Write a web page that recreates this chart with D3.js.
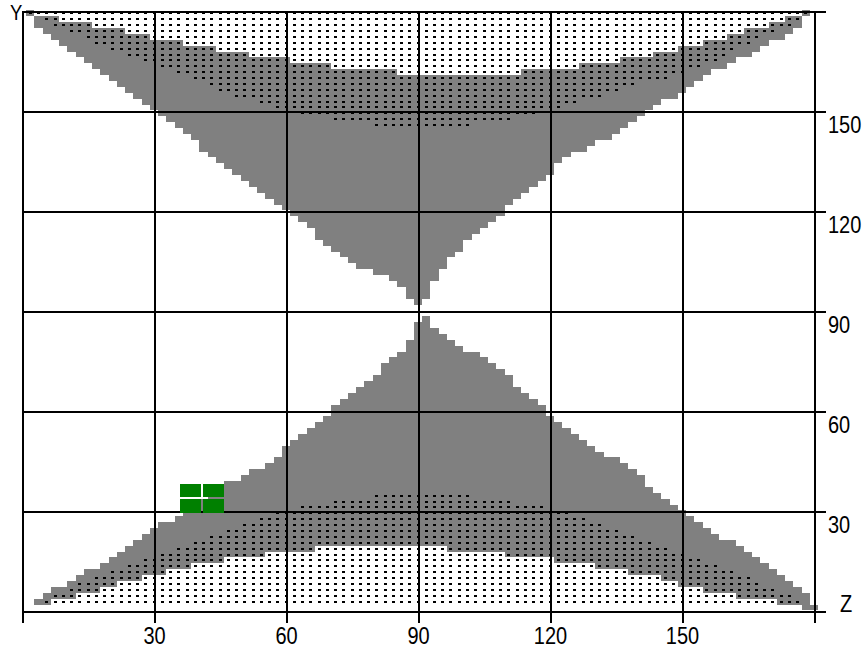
<!DOCTYPE html>
<html>
<head>
<meta charset="utf-8">
<script src="https://cdn.jsdelivr.net/npm/d3@7"></script>
<style>
  body { margin: 0; background: #fff; }
  svg { display: block; }
</style>
</head>
<body>
<div id="chart"></div>
<script>

// tick labels
const zTicks = [30, 60, 90, 120, 150]
const yTicks = [30, 60, 90, 120, 150]
const gridValues = [0, 30, 60, 90, 120, 150, 180]

// the coverage map is a grid of cells, one column every 1.875 deg of Z,
// one row every 180/102 deg of Y, row 0 at the top of the plot.
// every list below holds column numbers, one entry per row.

// upper lobe, rows 0..49
const upGrayFrom = [1,2,2,3,4,5,6,7,8,9,10,11,12,13,14,15,16,17,18,19,20,21,22,22,23,24,25,26,27,28,29,30,31,32,33,34,35,36,36,37,38,39,40,41,43,45,46,47,47,48]
const upGrayTo   = [95,94,94,93,92,90,89,88,86,85,83,82,81,80,79,77,76,75,74,73,72,71,69,68,66,65,64,64,63,62,61,60,59,58,58,57,56,55,54,53,53,52,51,51,50,50,49,49,49,48]
// white cap inside the upper lobe, rows 0..10
const upCapFrom = [2,5,9,13,16,20,24,28,33,38,46]
const upCapTo   = [94,92,90,87,85,82,79,76,72,67,60]
// dotted cells, rows 0..19
const upDotFrom = [1,3,4,6,8,9,11,13,15,17,19,21,23,24,26,29,31,34,38,43]
const upDotTo   = [95,94,93,91,89,88,86,85,84,82,80,78,74,72,70,67,65,62,59,54]

// lower lobe, rows 52..101
const loGrayFrom = [49,48,48,48,47,47,46,45,44,44,43,42,41,40,39,38,38,37,36,35,34,33,32,32,31,30,28,27,25,24,23,22,21,20,19,17,16,15,14,13,12,11,10,8,7,6,4,3,2,95]
const loGrayTo   = [49,49,50,51,52,53,55,56,57,58,59,59,60,61,62,63,63,64,65,66,67,68,69,70,72,73,74,75,75,76,77,78,79,80,81,82,83,84,86,87,88,89,90,91,92,93,94,95,95,96]
// white cap, rows 91..100
const loCapFrom = [36,30,25,21,18,15,12,10,7,4]
const loCapTo   = [51,58,64,69,73,77,79,82,86,91]
// dotted cells, rows 82..100
const loDotFrom = [43,38,34,31,29,27,25,23,21,19,17,15,13,11,9,7,6,4,3]
const loDotTo   = [54,59,63,66,68,70,72,74,76,78,80,82,84,86,88,89,91,93,94]

// green marker (Z and Y extent)
const markerZ = [35.8, 45.9]
const markerY = [29.5, 38.1]

// grid geometry
const DZ = 1.875
const DY = 180 / 102
const ROW0 = 179.3

const width = 864
const height = 653

let x = d3.scaleLinear().domain([0, 180]).range([22, 814])
let y = d3.scaleLinear().domain([0, 180]).range([611, 11])

const colZ = c => c * DZ
const rowY = r => ROW0 - r * DY

function runs(from, to, firstRow) {
   return from.map((f, j) => ({ row: firstRow + j, from: f, to: to[j] }))
}

const grayRuns = runs(upGrayFrom, upGrayTo, 0).concat(runs(loGrayFrom, loGrayTo, 52))
const capRuns = runs(upCapFrom, upCapTo, 0).concat(runs(loCapFrom, loCapTo, 91))
const dotRuns = runs(upDotFrom, upDotTo, 0).concat(runs(loDotFrom, loDotTo, 82))
const dots = dotRuns.flatMap(r => d3.range(r.from, r.to + 1).map(c => ({ row: r.row, col: c })))

let svg = d3.select('#chart')
   .append('svg')
      .attr('width', width)
      .attr('height', height)

// one rect per run of cells in a row
function drawRuns(data, fill) {
   svg.append('g')
      .attr('shape-rendering', 'crispEdges')
      .selectAll('rect')
      .data(data)
      .enter().append('rect')
         .attr('x', d => Math.round(x(colZ(d.from - 0.5))))
         .attr('width', d => Math.round(x(colZ(d.to + 0.5))) - Math.round(x(colZ(d.from - 0.5))))
         .attr('y', d => Math.round(y(rowY(d.row) + DY / 2)))
         .attr('height', d => Math.round(y(rowY(d.row) - DY / 2)) - Math.round(y(rowY(d.row) + DY / 2)))
         .attr('fill', fill)
}

drawRuns(grayRuns, '#808080')
drawRuns(capRuns, '#ffffff')

// the dots
svg.append('g')
   .attr('shape-rendering', 'crispEdges')
   .selectAll('rect')
   .data(dots)
   .enter().append('rect')
      .attr('x', d => Math.round(x(colZ(d.col)) - 1.5))
      .attr('y', d => Math.round(y(rowY(d.row)) - 1))
      .attr('width', 3)
      .attr('height', 2)
      .attr('fill', '#000')

// vertical grid lines, 12px past the bottom
let gridV = svg.append('g')
   .attr('transform', 'translate(0,' + (y(0) + 12) + ')')
   .call(d3.axisBottom(x)
      .tickValues(gridValues)
      .tickSize(-(y(0) + 12 - y(180)))
      .tickFormat(''))
gridV.select('.domain').remove()

// horizontal grid lines, 12px past the right side
let gridH = svg.append('g')
   .attr('transform', 'translate(' + (x(180) + 12) + ',0)')
   .call(d3.axisLeft(y)
      .tickValues(gridValues)
      .tickSize(x(180) + 12 - x(0))
      .tickFormat(''))
gridH.select('.domain').remove()

svg.selectAll('.tick line')
   .attr('stroke', '#000')
   .attr('stroke-width', 2)
   .attr('shape-rendering', 'crispEdges')

const font = "'Liberation Sans', Arial, sans-serif"
// the labels are a tall, narrow face: draw at 20px and stretch upward
const stretch = 'scale(1,1.17)'

// bottom labels
let xLabels = svg.append('g')
   .attr('transform', 'translate(0,' + y(0) + ')')
   .call(d3.axisBottom(x).tickValues(zTicks).tickSize(0))
xLabels.select('.domain').remove()
xLabels.selectAll('text')
   .attr('y', 0).attr('dy', null)
   .attr('transform', 'translate(0,33) ' + stretch)

// right labels, sitting under their grid line
let yLabels = svg.append('g')
   .attr('transform', 'translate(' + (x(180) + 14) + ',0)')
   .call(d3.axisRight(y).tickValues(yTicks).tickSize(0))
yLabels.select('.domain').remove()
yLabels.selectAll('text')
   .attr('x', 0).attr('y', 0).attr('dy', null)
   .attr('transform', 'translate(0,21) ' + stretch)

svg.selectAll('.tick text')
   .attr('fill', '#000')
   .style('font-family', font)
   .style('font-size', '20px')

// axis names
svg.append('text')
   .attr('transform', 'translate(' + (x(180) + 26) + ',' + (y(0) + 1) + ') ' + stretch)
   .style('font-family', font)
   .style('font-size', '20px')
   .text('Z')

svg.append('text')
   .attr('transform', 'translate(' + (x(0) - 12) + ',' + (y(180) + 9) + ') ' + stretch)
   .style('font-family', font)
   .style('font-size', '18.5px')
   .text('Y')

// green marker, split in four
const mz = [markerZ[0], (markerZ[0] + markerZ[1]) / 2, markerZ[1]]
const my = [markerY[0], (markerY[0] + markerY[1]) / 2, markerY[1]]
const quads = [[0, 0], [1, 0], [0, 1], [1, 1]]
svg.append('g')
   .attr('shape-rendering', 'crispEdges')
   .selectAll('rect')
   .data(quads)
   .enter().append('rect')
      .attr('x', d => Math.round(x(mz[d[0]])) + (d[0] ? 1 : 0))
      .attr('width', d => Math.round(x(mz[d[0] + 1])) - Math.round(x(mz[d[0]])) - 1)
      .attr('y', d => Math.round(y(my[d[1] + 1])) + (d[1] ? 0 : 1))
      .attr('height', d => Math.round(y(my[d[1]])) - Math.round(y(my[d[1] + 1])) - 1)
      .attr('fill', '#008000')
</script>
</body>
</html>
